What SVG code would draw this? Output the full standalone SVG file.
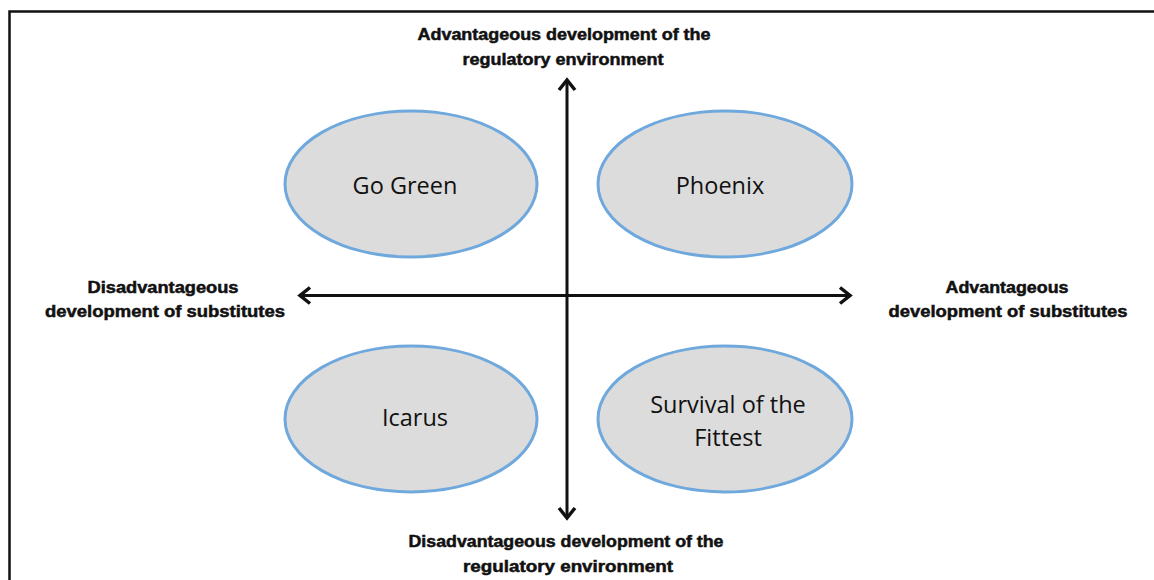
<svg xmlns="http://www.w3.org/2000/svg" width="1154" height="580" viewBox="0 0 1154 580">
  <style>
    .scen ellipse { fill: #dcdcdc; stroke: #6fa8dc; stroke-width: 3; }
    .scen text { font-family: "Open Sans", "Liberation Sans", sans-serif; font-size: 23.5px; fill: #111; text-anchor: middle; }
    .lbl text { font-family: "Liberation Sans", "DejaVu Sans", sans-serif; font-weight: bold; font-size: 16px; fill: #111; stroke: #111; stroke-width: 0.5; text-anchor: middle; }
    .axis { stroke: #111; stroke-width: 3; fill: none; }
    .head { stroke: #111; stroke-width: 3.5; fill: none; stroke-linejoin: miter; }
  </style>

  <!-- frame -->
  <rect x="9.5" y="11.5" width="1160" height="600" fill="#fff" stroke="#111" stroke-width="2.5"/>

  <!-- scenario nodes -->
  <g id="go-green" class="scen">
    <ellipse cx="411" cy="184" rx="126" ry="73"/>
    <text x="405" y="194">Go Green</text>
  </g>
  <g id="phoenix" class="scen">
    <ellipse cx="725" cy="184" rx="127" ry="73"/>
    <text x="720" y="194">Phoenix</text>
  </g>
  <g id="icarus" class="scen">
    <ellipse cx="411" cy="419" rx="126" ry="73"/>
    <text x="415" y="426">Icarus</text>
  </g>
  <g id="survival" class="scen">
    <ellipse cx="725" cy="419" rx="127" ry="73"/>
    <text x="728" y="413">Survival of the</text>
    <text x="728" y="446">Fittest</text>
  </g>

  <!-- axes -->
  <g id="connectors">
    <line class="axis" x1="567" y1="80" x2="567" y2="518"/>
    <polyline class="head" points="559,90 567,80 575,90"/>
    <polyline class="head" points="559,508 567,518 575,508"/>
    <line class="axis" x1="300" y1="295.5" x2="850" y2="295.5"/>
    <polyline class="head" points="310,287.5 300,295.5 310,303.5"/>
    <polyline class="head" points="840,287.5 850,295.5 840,303.5"/>
  </g>

  <!-- axis labels -->
  <g id="label-top" class="lbl">
    <text x="564" y="40" textLength="293" lengthAdjust="spacingAndGlyphs">Advantageous development of the</text>
    <text x="563" y="65" textLength="201" lengthAdjust="spacingAndGlyphs">regulatory environment</text>
  </g>
  <g id="label-bottom" class="lbl">
    <text x="566" y="547" textLength="315" lengthAdjust="spacingAndGlyphs">Disadvantageous development of the</text>
    <text x="568" y="572" textLength="210" lengthAdjust="spacingAndGlyphs">regulatory environment</text>
  </g>
  <g id="label-left" class="lbl">
    <text x="163" y="293" textLength="151" lengthAdjust="spacingAndGlyphs">Disadvantageous</text>
    <text x="165" y="317" textLength="240" lengthAdjust="spacingAndGlyphs">development of substitutes</text>
  </g>
  <g id="label-right" class="lbl">
    <text x="1007" y="293" textLength="123" lengthAdjust="spacingAndGlyphs">Advantageous</text>
    <text x="1008" y="317" textLength="239" lengthAdjust="spacingAndGlyphs">development of substitutes</text>
  </g>
</svg>
